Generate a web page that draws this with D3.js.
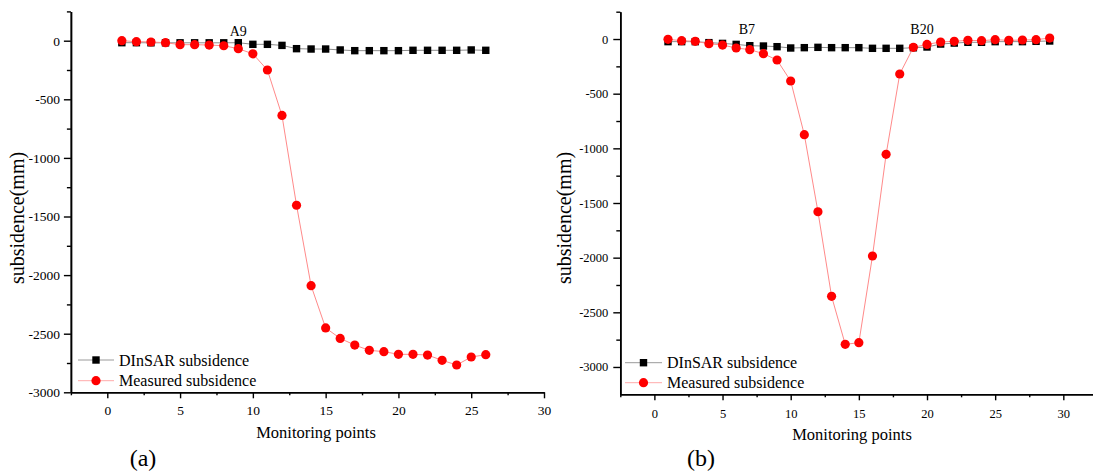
<!DOCTYPE html>
<html>
<head>
<meta charset="utf-8">
<script src="https://cdn.jsdelivr.net/npm/d3@7"></script>
<style>
  html, body { margin: 0; padding: 0; background: #fff; }
  svg { display: block; }
  svg text { font-family: "Liberation Serif", "Times New Roman", serif; }
</style>
</head>
<body>
<svg id="chart" width="1093" height="473"></svg>
<script>
// Panel (a): monitoring line A
const pointsA = [1,2,3,4,5,6,7,8,9,10,11,12,13,14,15,16,17,18,19,20,21,22,23,24,25,26];
const dinsarA = [-17,-17,-18,-18,-18,-18,-18,-18,-17,-31,-31,-40,-68,-71,-71,-79,-85,-85,-85,-85,-82,-82,-82,-82,-79,-82];
const measuredA = [0,-8,-11,-17,-34,-34,-37,-43,-68,-112,-250,-638,-1404,-2090,-2451,-2540,-2597,-2642,-2653,-2676,-2676,-2682,-2727,-2767,-2699,-2679];

// Panel (b): monitoring line B
const pointsB = [1,2,3,4,5,6,7,8,9,10,11,12,13,14,15,16,17,18,19,20,21,22,23,24,25,26,27,28,29];
const dinsarB = [-24,-24,-24,-33,-40,-49,-61,-64,-70,-82,-79,-76,-79,-79,-79,-85,-85,-85,-80,-73,-46,-37,-30,-30,-24,-24,-24,-21,-18];
const measuredB = [-3,-15,-21,-43,-55,-82,-97,-134,-192,-384,-875,-1580,-2354,-2793,-2778,-1985,-1055,-320,-76,-49,-27,-21,-12,-15,-6,-12,-9,-6,9];

// Axis ticks and labels
const xMajorTicks = [0,5,10,15,20,25,30];
const xMinorTicks = [-2.5,2.5,7.5,12.5,17.5,22.5,27.5];
const yMajorTicks = [-3000,-2500,-2000,-1500,-1000,-500,0];
const yMinorTicks = [-2750,-2250,-1750,-1250,-750,-250,250];
const seriesNames = ["DInSAR subsidence", "Measured subsidence"];
const xTitle = "Monitoring points";
const yTitle = "subsidence(mm)";
const annotationsA = [{point: 9, text: "A9", dx: 0}];
const annotationsB = [{point: 7, text: "B7", dx: -3}, {point: 20, text: "B20", dx: -5}];

const svg = d3.select("#chart");
const plainNumber = d => String(d);

function styleAxis(sel, fontSize) {
  sel.attr("font-family", null);
  sel.selectAll(".domain").attr("stroke", "#000").attr("stroke-width", 1.6);
  sel.selectAll(".tick line").attr("stroke", "#000").attr("stroke-width", 1.4);
  sel.selectAll(".tick text").attr("font-size", fontSize).attr("fill", "#000");
}

function drawPanel(cfg) {
  const g = svg.append("g");
  const x = d3.scaleLinear().domain(cfg.xDomain).range(cfg.xRange);
  const y = d3.scaleLinear().domain(cfg.yDomain).range(cfg.yRange);
  const x0 = cfg.xRange[0], yBottom = cfg.yRange[0];

  // x axis: minor ticks, then major ticks with labels
  g.append("g").attr("transform", `translate(0,${yBottom})`)
    .call(d3.axisBottom(x).tickValues(xMinorTicks).tickSize(3).tickFormat("").tickSizeOuter(0))
    .call(styleAxis, cfg.tickFont);
  g.append("g").attr("transform", `translate(0,${yBottom})`)
    .call(d3.axisBottom(x).tickValues(xMajorTicks).tickFormat(plainNumber)
      .tickSize(6).tickPadding(cfg.xPad).tickSizeOuter(0))
    .call(styleAxis, cfg.tickFont);

  // y axis
  g.append("g").attr("transform", `translate(${x0},0)`)
    .call(d3.axisLeft(y).tickValues(yMinorTicks).tickSize(4).tickFormat("").tickSizeOuter(0))
    .call(styleAxis, cfg.tickFont);
  g.append("g").attr("transform", `translate(${x0},0)`)
    .call(d3.axisLeft(y).tickValues(yMajorTicks).tickFormat(plainNumber)
      .tickSize(7).tickPadding(cfg.yPad).tickSizeOuter(0))
    .call(styleAxis, cfg.tickFont);

  // axis titles
  g.append("text")
    .attr("x", cfg.xTitlePos[0]).attr("y", cfg.xTitlePos[1])
    .attr("text-anchor", "middle").attr("font-size", 16.5).text(xTitle);
  g.append("text")
    .attr("transform", `translate(${cfg.yTitlePos[0]},${cfg.yTitlePos[1]}) rotate(-90)`)
    .attr("text-anchor", "middle").attr("font-size", 20).text(yTitle);

  const line = d3.line().x((d, i) => x(cfg.points[i])).y(d => y(d));

  // DInSAR series: grey line, black squares
  g.append("path").datum(cfg.dinsar)
    .attr("d", line).attr("fill", "none").attr("stroke", "#8c8c8c").attr("stroke-width", 1);
  g.selectAll(".sq").data(cfg.dinsar).join("rect")
    .attr("x", (d, i) => x(cfg.points[i]) - 3.7)
    .attr("y", d => y(d) - 3.7)
    .attr("width", 7.4).attr("height", 7.4).attr("fill", "#000");

  // Measured series: light red line, red circles
  g.append("path").datum(cfg.measured)
    .attr("d", line).attr("fill", "none").attr("stroke", "#ff8a8a").attr("stroke-width", 1);
  g.selectAll(".ci").data(cfg.measured).join("circle")
    .attr("cx", (d, i) => x(cfg.points[i]))
    .attr("cy", d => y(d))
    .attr("r", 4.6).attr("fill", "#ff0000");

  // point annotations
  cfg.annotations.forEach(a => {
    g.append("text")
      .attr("x", x(a.point) + a.dx).attr("y", y(0) - 5)
      .attr("text-anchor", "middle").attr("font-size", 14).text(a.text);
  });

  // legend
  const lg = g.append("g");
  const styles = [
    {stroke: "#9a9a9a", shape: "square"},
    {stroke: "#ffaaaa", shape: "circle"}
  ];
  seriesNames.forEach((name, i) => {
    const cy = cfg.legend.y + i * cfg.legend.gap;
    lg.append("line")
      .attr("x1", cfg.legend.x0).attr("x2", cfg.legend.x1)
      .attr("y1", cy).attr("y2", cy)
      .attr("stroke", styles[i].stroke).attr("stroke-width", 1);
    const mx = (cfg.legend.x0 + cfg.legend.x1) / 2;
    if (styles[i].shape === "square") {
      lg.append("rect").attr("x", mx - 3.7).attr("y", cy - 3.7)
        .attr("width", 7.4).attr("height", 7.4).attr("fill", "#000");
    } else {
      lg.append("circle").attr("cx", mx).attr("cy", cy).attr("r", 4.6).attr("fill", "#ff0000");
    }
    lg.append("text")
      .attr("x", cfg.legend.tx).attr("y", cy + 5.5)
      .attr("font-size", 16).text(name);
  });

  // panel label
  g.append("text")
    .attr("x", cfg.panelLabel.x).attr("y", cfg.panelLabel.y)
    .attr("text-anchor", "middle").attr("font-size", 24).text(cfg.panelLabel.text);
}

drawPanel({
  points: pointsA, dinsar: dinsarA, measured: measuredA,
  xDomain: [-2.5, 30], xRange: [70.9, 544],
  yDomain: [-3000, 250], yRange: [392.3, 11.4],
  tickFont: 13.5, xPad: 7, yPad: 4,
  xTitlePos: [316, 438], yTitlePos: [24, 218],
  annotations: annotationsA,
  legend: {x0: 78, x1: 114, y: 360, gap: 20.7, tx: 119},
  panelLabel: {x: 143, y: 466, text: "(a)"}
});

drawPanel({
  points: pointsB, dinsar: dinsarB, measured: measuredB,
  xDomain: [-2.5, 32.5], xRange: [620.3, 1097.4],
  yDomain: [-3250, 250], yRange: [394.3, 11.7],
  tickFont: 12.5, xPad: 8.5, yPad: 5,
  xTitlePos: [852, 440], yTitlePos: [571, 218],
  annotations: annotationsB,
  legend: {x0: 625, x1: 662, y: 362.7, gap: 20, tx: 667},
  panelLabel: {x: 701, y: 466, text: "(b)"}
});
</script>
</body>
</html>
